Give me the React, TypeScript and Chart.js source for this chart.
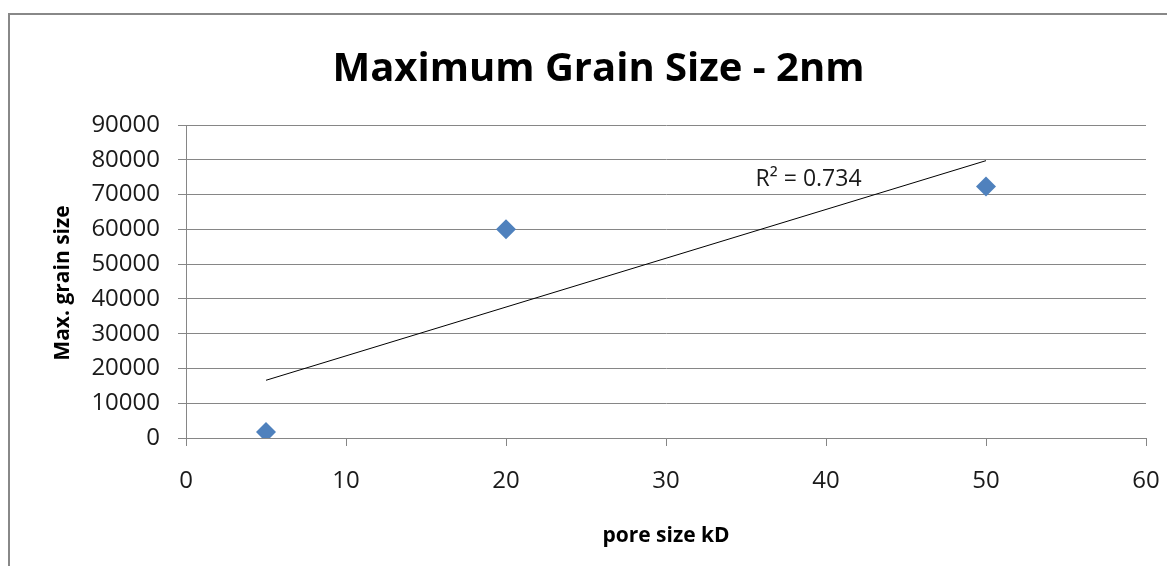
import { useEffect, useRef } from 'react';
import { Chart, registerables } from 'chart.js';

Chart.register(...registerables);

// Measured samples: membrane pore size (kD) vs. maximum grain size
const poreSizeKD = [5, 20, 50];
const maxGrainSize = [1700, 60000, 72300];

// Axis ranges and tick spacing
const xRange = [0, 60];
const xStep = 10;
const yRange = [0, 90000];
const yStep = 10000;

const chartTitle = 'Maximum Grain Size - 2nm';
const xAxisTitle = 'pore size kD';
const yAxisTitle = 'Max. grain size';
const rSquaredLabel = 'R\u00B2 = 0.734';
// where the R² label sits, in data units (left edge, baseline)
const rSquaredAt = { x: 35.6, y: 72450 };

const FONT = "'Open Sans', 'Noto Sans', sans-serif";
const GRID = '#868686';
const TEXT = '#1a1a1a';
const MARKER = '#4F81BD';

// Least-squares linear trend through the measured points
function linearFit(xs: number[], ys: number[]) {
  const n = xs.length;
  const mx = xs.reduce((a, b) => a + b, 0) / n;
  const my = ys.reduce((a, b) => a + b, 0) / n;
  let sxy = 0;
  let sxx = 0;
  for (let i = 0; i < n; i++) {
    sxy += (xs[i] - mx) * (ys[i] - my);
    sxx += (xs[i] - mx) * (xs[i] - mx);
  }
  const slope = sxy / sxx;
  const intercept = my - slope * mx;
  return (x: number) => intercept + slope * x;
}

const CANVAS_W = 1165;
const CANVAS_H = 551;
// plot area inside the canvas
const PLOT = { left: 176, right: 1136, top: 110, bottom: 423 };

const plainNumber = (v: number | string) => String(v);

const labelsPlugin = {
  id: 'excelLabels',
  afterDraw(chart: any) {
    const { ctx, scales } = chart;
    ctx.save();
    ctx.fillStyle = '#000';

    // chart title
    ctx.font = `bold 40px ${FONT}`;
    ctx.textAlign = 'center';
    ctx.textBaseline = 'alphabetic';
    ctx.fillText(chartTitle, 588.5, 66);

    // x axis title
    ctx.font = `bold 21px ${FONT}`;
    ctx.fillText(xAxisTitle, 656, 527);

    // y axis title (rotated)
    ctx.save();
    ctx.translate(59, 268);
    ctx.rotate(-Math.PI / 2);
    ctx.fillText(yAxisTitle, 0, 0);
    ctx.restore();

    // R² annotation next to the trend line
    ctx.font = `23px ${FONT}`;
    ctx.fillStyle = TEXT;
    ctx.textAlign = 'left';
    ctx.fillText(
      rSquaredLabel,
      scales.x.getPixelForValue(rSquaredAt.x),
      scales.y.getPixelForValue(rSquaredAt.y)
    );
    ctx.restore();
  },
};

export default function App() {
  const canvasRef = useRef<HTMLCanvasElement | null>(null);

  useEffect(() => {
    const canvas = canvasRef.current;
    if (!canvas) return;

    const trend = linearFit(poreSizeKD, maxGrainSize);
    const xFirst = poreSizeKD[0];
    const xLast = poreSizeKD[poreSizeKD.length - 1];

    const chart = new Chart(canvas, {
      type: 'scatter',
      data: {
        datasets: [
          {
            label: 'Max. grain size',
            data: poreSizeKD.map((x, i) => ({ x, y: maxGrainSize[i] })),
            pointStyle: 'rectRot',
            pointRadius: 10,
            pointHoverRadius: 10,
            backgroundColor: MARKER,
            borderColor: MARKER,
            borderWidth: 0,
            order: 0,
          },
          {
            label: 'Linear trend',
            type: 'line',
            data: [
              { x: xFirst, y: trend(xFirst) },
              { x: xLast, y: trend(xLast) },
            ],
            borderColor: '#000',
            borderWidth: 1,
            pointRadius: 0,
            fill: false,
            order: 1,
          },
        ],
      },
      options: {
        responsive: false,
        animation: false,
        events: [],
        layout: {
          padding: {
            top: PLOT.top,
            right: CANVAS_W - PLOT.right,
            left: 0,
            bottom: 0,
          },
        },
        plugins: {
          legend: { display: false },
          title: { display: false },
          tooltip: { enabled: false },
        },
        scales: {
          x: {
            type: 'linear',
            min: xRange[0],
            max: xRange[1],
            afterFit: (scale: any) => {
              scale.height = CANVAS_H - PLOT.bottom;
              scale.paddingLeft = 0;
              scale.paddingRight = 0;
            },
            ticks: {
              stepSize: xStep,
              padding: 21,
              color: TEXT,
              font: { family: FONT, size: 24 },
              callback: plainNumber,
            },
            grid: {
              drawOnChartArea: false,
              drawTicks: true,
              tickLength: 8,
              color: GRID,
              lineWidth: 1,
            },
            border: { display: true, color: GRID, width: 1 },
          },
          y: {
            type: 'linear',
            min: yRange[0],
            max: yRange[1],
            afterFit: (scale: any) => {
              scale.width = PLOT.left;
              scale.paddingTop = 0;
              scale.paddingBottom = 0;
            },
            ticks: {
              stepSize: yStep,
              padding: 18,
              color: TEXT,
              font: { family: FONT, size: 24 },
              callback: plainNumber,
            },
            grid: {
              drawTicks: true,
              tickLength: 8,
              color: GRID,
              lineWidth: 1,
            },
            border: { display: true, color: GRID, width: 1 },
          },
        },
      },
      plugins: [labelsPlugin],
    });

    return () => chart.destroy();
  }, []);

  return (
    <div style={{ paddingTop: 5 }}>
      <div
        style={{
          width: 1167,
          height: CANVAS_H + 2,
          boxSizing: 'border-box',
          borderLeft: '2px solid #888',
          borderTop: '2px solid #888',
          background: '#fff',
        }}
      >
        <canvas
          ref={canvasRef}
          width={CANVAS_W}
          height={CANVAS_H}
          style={{ display: 'block', width: CANVAS_W, height: CANVAS_H }}
        />
      </div>
    </div>
  );
}
